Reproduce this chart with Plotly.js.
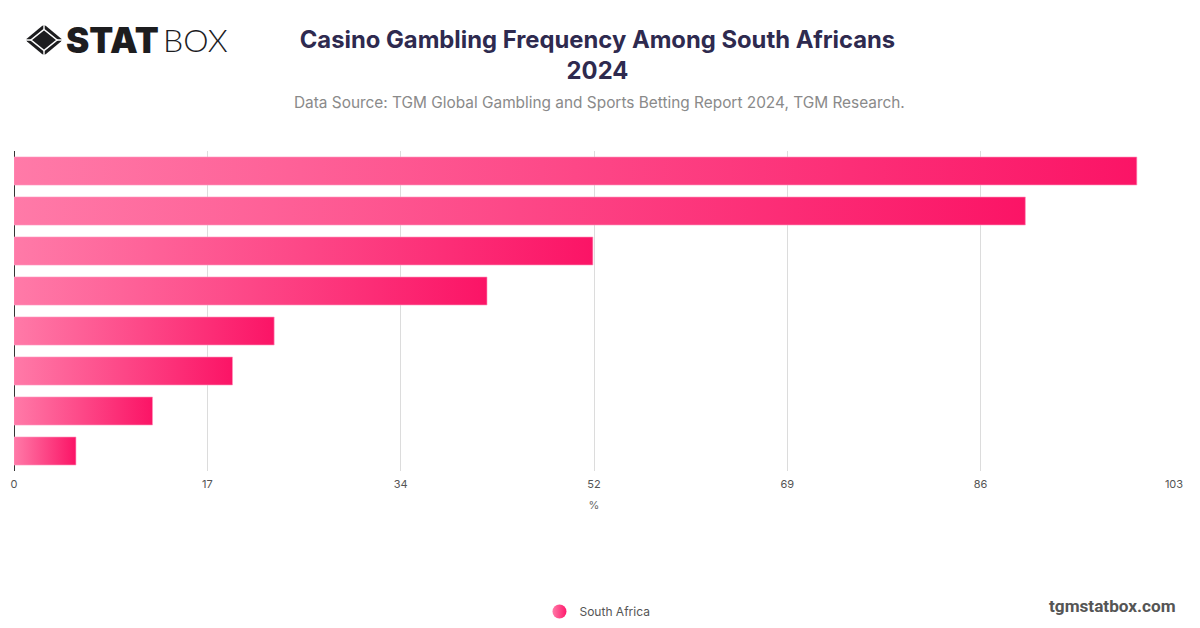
<!DOCTYPE html>
<html>
<head>
<meta charset="utf-8">
<script src="https://cdn.plot.ly/plotly-3.0.1.min.js"></script>
<style>
  html, body { margin: 0; padding: 0; background: #fff; }
  #wrap { position: relative; width: 1200px; height: 628px; overflow: hidden; }
  #chart { width: 1200px; height: 628px; }
  #logo-icon { position: absolute; left: 26px; top: 25px; width: 36px; height: 30px; }
</style>
</head>
<body>
<div id="wrap">
  <div id="chart"></div>
  <svg id="logo-icon" viewBox="0 0 36 30">
    <path d="M16 1 L18 0 L20 1 L35 13.5 L36 15 L35 16.5 L20 29 L18 30 L16 29 L1 16.5 L0 15 L1 13.5 Z" fill="#1d1d1f"/>
    <path d="M18 4.5 L31 15 L18 25.5 L5 15 Z" fill="none" stroke="#fff" stroke-width="1.6"/>
    <path d="M18 0 L18 4.5 M18 25.5 L18 30 M0 15 L5 15 M31 15 L36 15" stroke="#fff" stroke-width="1.4"/>
  </svg>
</div>
<script>
// ---- Data ----
const categories = ['1', '2', '3', '4', '5', '6', '7', '8']; // no labels shown in the picture
const values = [99.7, 89.8, 51.4, 42, 23.1, 19.4, 12.3, 5.5];
const seriesName = 'South Africa';
const tickVals = [0, 17.17, 34.33, 51.5, 68.67, 85.83, 103];
const tickText = ['0', '17', '34', '52', '69', '86', '103'];

const barTrace = {
  type: 'bar',
  orientation: 'h',
  x: values,
  y: categories,
  name: seriesName,
  showlegend: false,
  hoverinfo: 'x',
  marker: { color: '#ff1a6c', line: { color: 'rgba(255,150,190,0.6)', width: 1 } }
};

// only here for the round legend marker
const legendTrace = {
  type: 'scatter',
  mode: 'markers',
  x: [null],
  y: [null],
  name: seriesName,
  marker: { size: 14, color: '#ff7aa8', symbol: 'circle', gradient: { type: 'horizontal', color: '#ff1a6c' } }
};

const layout = {
  width: 1200,
  height: 628,
  paper_bgcolor: '#fff',
  plot_bgcolor: '#fff',
  font: { family: 'Inter, sans-serif', color: '#555', size: 11 },
  margin: { l: 14, r: 26, t: 151, b: 157, pad: 0, autoexpand: false },
  bargap: 0.3,
  title: {
    text: '<b>Casino Gambling Frequency Among South Africans<br>2024</b>',
    font: { family: 'Inter, sans-serif', size: 23.8, color: '#2e2a4f' },
    x: 0.503,
    xanchor: 'center',
    xref: 'paper',
    y: 0.9237,
    yanchor: 'middle'
  },
  xaxis: {
    range: [0, 103],
    tickmode: 'array',
    tickvals: tickVals,
    ticktext: tickText,
    ticks: '',
    ticklabelstandoff: 5,
    showgrid: true,
    gridcolor: '#dcdcdc',
    gridwidth: 1,
    zeroline: true,
    zerolinecolor: '#333',
    zerolinewidth: 1,
    showline: false,
    tickfont: { size: 11, color: '#555' },
    title: { text: '%', font: { size: 11, color: '#666' }, standoff: 11 }
  },
  yaxis: {
    type: 'category',
    range: [7.5, -0.5],
    showticklabels: false,
    ticks: '',
    showgrid: false,
    zeroline: false,
    showline: false
  },
  showlegend: true,
  legend: {
    orientation: 'h',
    x: 0.453,
    xanchor: 'left',
    y: -0.439,
    yanchor: 'middle',
    font: { size: 12, color: '#555' },
    bgcolor: 'rgba(0,0,0,0)'
  },
  annotations: [
    {
      text: 'Data Source: TGM Global Gambling and Sports Betting Report 2024, TGM Research.',
      xref: 'paper', yref: 'paper', x: 0.505, y: 1.153, yanchor: 'middle', showarrow: false,
      font: { size: 15.4, color: '#8a8a8a' }
    },
    {
      text: '<b>tgmstatbox.com</b>',
      xref: 'paper', yref: 'paper', x: 1.0034, xanchor: 'right', y: -0.422, yanchor: 'middle', showarrow: false,
      font: { family: 'Roboto, sans-serif', size: 17.2, color: '#555' }
    },
    {
      text: 'STAT',
      xref: 'paper', yref: 'paper', x: 0.043, xanchor: 'left', y: 1.347, yanchor: 'middle', showarrow: false,
      font: { family: 'Inter, sans-serif', size: 35, weight: 900, color: '#1d1d1f' }
    },
    {
      text: 'BOX',
      xref: 'paper', yref: 'paper', x: 0.1268, xanchor: 'left', y: 1.347, yanchor: 'middle', showarrow: false,
      font: { family: 'Lato, sans-serif', size: 32, weight: 300, color: '#1d1d1f' }
    }
  ]
};

const config = { displayModeBar: false, staticPlot: true };

// Plotly has no gradient for bars, so it goes on the drawn paths afterwards
function addBarGradient(gd) {
  const defs = gd.querySelector('.main-svg defs');
  const ns = 'http://www.w3.org/2000/svg';
  const grad = document.createElementNS(ns, 'linearGradient');
  grad.setAttribute('id', 'barGradient');
  [['0%', '#ff7aa8'], ['100%', '#fb1466']].forEach(([offset, color]) => {
    const stop = document.createElementNS(ns, 'stop');
    stop.setAttribute('offset', offset);
    stop.setAttribute('stop-color', color);
    grad.appendChild(stop);
  });
  defs.appendChild(grad);
  gd.querySelectorAll('.barlayer .point path').forEach(path => {
    path.style.fill = 'url(#barGradient)';
  });
}

Plotly.newPlot('chart', [barTrace, legendTrace], layout, config).then(addBarGradient);
</script>
</body>
</html>
